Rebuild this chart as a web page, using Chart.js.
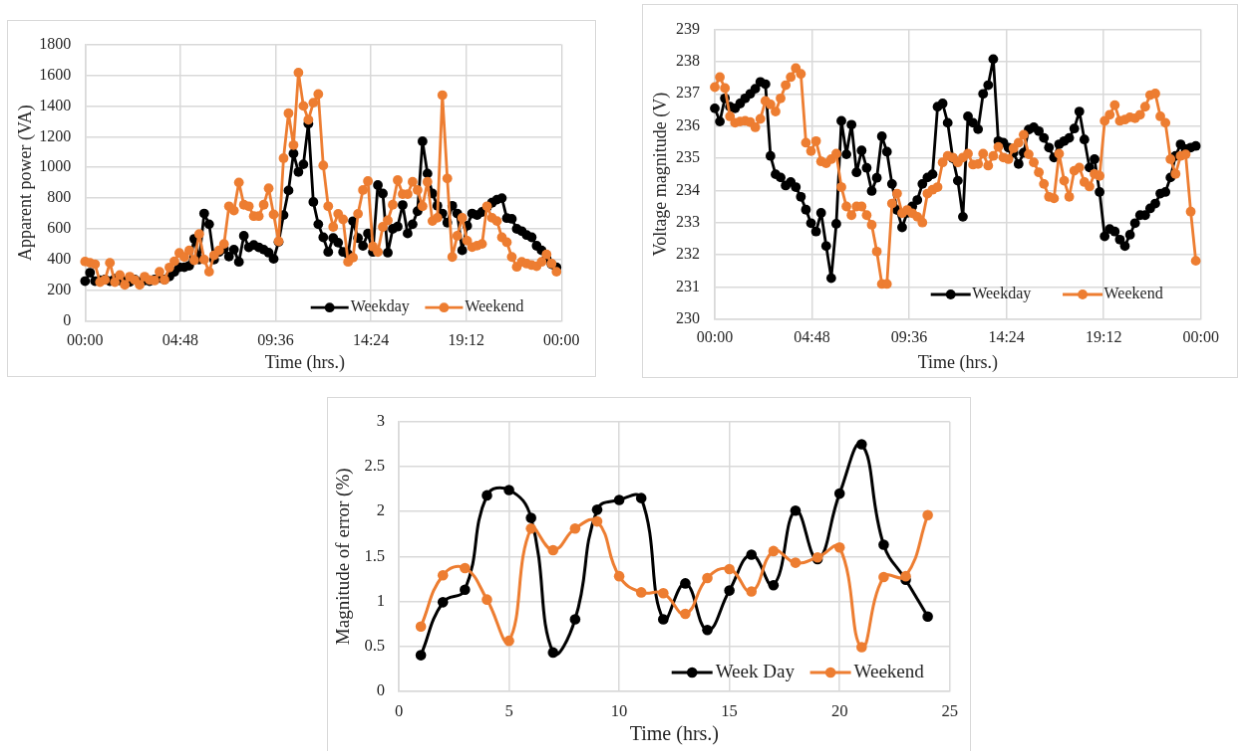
<!DOCTYPE html>
<html>
<head>
<meta charset="utf-8">
<script src="https://cdn.jsdelivr.net/npm/chart.js@4.4.1/dist/chart.umd.min.js"></script>
<style>
  html, body { margin: 0; padding: 0; background: #fff; width: 1241px; height: 751px; overflow: hidden; }
  canvas { position: absolute; border: 1px solid #d9d9d9; }
  #power   { left: 7px;   top: 20px;  }
  #voltage { left: 642px; top: 4px;   }
  #error   { left: 327px; top: 397px; }
</style>
</head>
<body>
<canvas id="power" width="589" height="357"></canvas>
<canvas id="voltage" width="596" height="374"></canvas>
<canvas id="error" width="644" height="360"></canvas>
<script>
// ---- Data -------------------------------------------------------------
// Quarter-hour profiles over one day (96 samples each)
const wkdPower = [260,315,260,265,270,260,275,265,260,255,270,255,265,260,270,280,270,290,320,350,
  350,360,535,400,700,630,400,450,470,420,465,385,555,480,495,480,465,445,405,515,
  690,850,1090,970,1020,1285,775,630,545,450,540,510,450,435,650,540,490,570,450,885,
  830,445,600,615,755,570,630,715,1170,960,830,750,700,640,750,700,460,620,700,690,
  710,740,770,790,800,670,665,600,585,560,545,490,460,410,370,350];
const wkePower = [387,379,370,253,268,379,253,300,236,289,268,236,289,268,264,321,268,349,389,443,
  417,460,396,566,400,321,428,460,502,747,719,902,757,747,683,683,757,864,694,519,
  1060,1353,1145,1617,1400,1310,1421,1477,1013,747,613,698,662,385,413,698,853,911,485,449,
  613,655,757,917,826,826,906,853,747,906,651,672,1470,928,417,555,672,523,481,491,
  502,747,672,651,545,513,417,353,385,374,364,357,385,434,374,321];

const wkdVolt = [236.55,236.14,236.86,236.6,236.55,236.7,236.86,237.0,237.16,237.37,237.3,235.07,234.5,234.4,234.15,234.26,234.1,233.8,233.4,232.98,
  232.72,233.3,232.27,231.27,232.96,236.16,235.12,236.04,234.56,235.24,234.7,233.98,234.39,235.68,235.2,234.2,233.39,232.85,233.3,233.5,
  233.7,234.2,234.4,234.5,236.6,236.7,236.1,235.0,234.3,233.18,236.3,236.1,235.9,237.0,237.27,238.08,235.53,235.48,235.33,235.17,
  234.82,235.17,235.89,235.96,235.84,235.63,235.33,235.02,235.43,235.53,235.63,235.92,236.45,235.58,234.71,234.97,233.95,232.57,232.8,232.72,
  232.47,232.27,232.62,232.98,233.23,233.23,233.44,233.59,233.9,233.95,234.4,235.07,235.43,235.28,235.33,235.38];
const wkeVolt = [237.21,237.52,237.18,236.3,236.1,236.14,236.16,236.12,235.96,236.22,236.78,236.67,236.45,236.86,237.27,237.52,237.8,237.62,235.48,235.22,
  235.53,234.9,234.84,234.97,235.14,234.1,233.5,233.23,233.5,233.5,233.23,232.93,232.1,231.09,231.09,233.59,233.9,233.29,233.39,233.29,
  233.18,233.0,233.9,234.02,234.1,234.87,235.07,235.02,234.87,235.02,235.14,234.8,234.82,235.14,234.77,235.07,235.35,235.02,234.97,235.31,
  235.48,235.73,235.12,234.87,234.56,234.2,233.8,233.75,235.14,234.3,233.8,234.61,234.71,234.26,234.12,234.51,234.45,236.16,236.35,236.65,
  236.16,236.2,236.27,236.24,236.35,236.6,236.96,237.01,236.3,236.1,234.97,234.51,235.07,235.12,233.34,231.81];

// Clock-axis ticks (fractions of a day shown as hh:mm)
const clockTickHours  = [0, 4.8, 9.6, 14.4, 19.2, 24];
const clockTickLabels = ['00:00', '04:48', '09:36', '14:24', '19:12', '00:00'];

// Hourly forecast error
const errHours   = [1,2,3,4,5,6,7,8,9,10,11,12,13,14,15,16,17,18,19,20,21,22,23,24];
const weekDayErr = [0.40,0.99,1.13,2.18,2.24,1.93,0.43,0.80,2.02,2.13,2.15,0.80,1.20,0.68,1.12,1.52,1.18,2.01,1.47,2.20,2.75,1.63,1.24,0.83];
const weekendErr = [0.72,1.29,1.37,1.02,0.56,1.81,1.57,1.81,1.89,1.28,1.10,1.09,0.86,1.26,1.36,1.11,1.56,1.43,1.49,1.60,0.49,1.27,1.28,1.96];

// ---- Styling -----------------------------------------------------------
const BLACK = '#000000';
const ORANGE = '#ED7D31';
const GRID = '#d9d9d9';
const TEXT = '#262626';

Chart.defaults.font.family = '"Liberation Serif", "Times New Roman", serif';
Chart.defaults.color = TEXT;

const slotHours = wkdPower.map((_, i) => i * 0.25);
const plainNumber = v => String(v);

function series(label, xs, ys, color, opts) {
  return Object.assign({
    label,
    data: ys.map((y, i) => ({ x: xs[i], y })),
    borderColor: color,
    backgroundColor: color,
    pointBackgroundColor: color,
    pointBorderColor: color,
    pointBorderWidth: 0,
    borderJoinStyle: 'round',
    borderCapStyle: 'round',
    clip: false
  }, opts);
}

// Legend drawn inside the plot area, below the data
const inlineLegend = {
  id: 'inlineLegend',
  afterDatasetsDraw(chart, args, o) {
    if (!o || !o.size) return;
    const { ctx, chartArea } = chart;
    ctx.save();
    ctx.font = o.size + 'px "Liberation Serif", "Times New Roman", serif';
    ctx.textBaseline = 'middle';
    ctx.textAlign = 'left';
    let x = chartArea.left + o.left;
    const y = chartArea.bottom - o.bottom;
    chart.data.datasets.forEach(ds => {
      ctx.strokeStyle = ds.borderColor;
      ctx.lineWidth = ds.borderWidth;
      ctx.beginPath();
      ctx.moveTo(x, y);
      ctx.lineTo(x + o.line, y);
      ctx.stroke();
      ctx.fillStyle = ds.borderColor;
      ctx.beginPath();
      ctx.arc(x + o.line / 2, y, ds.pointRadius, 0, Math.PI * 2);
      ctx.fill();
      x += o.line + o.gap;
      ctx.fillStyle = o.color;
      ctx.fillText(ds.label, x, y);
      x += ctx.measureText(ds.label).width + o.spacing;
    });
    ctx.restore();
  }
};

// Horizontal-axis caption with a sideways offset
const shiftedCaption = {
  id: 'shiftedCaption',
  afterDraw(chart, args, o) {
    if (!o || !o.text) return;
    const { ctx, chartArea } = chart;
    ctx.save();
    ctx.font = o.size + 'px "Liberation Serif", "Times New Roman", serif';
    ctx.fillStyle = TEXT;
    ctx.textAlign = 'center';
    ctx.textBaseline = 'middle';
    ctx.fillText(o.text, (chartArea.left + chartArea.right) / 2 + o.dx, chartArea.bottom + o.dy);
    ctx.restore();
  }
};

function gridOpts() {
  return { color: GRID, lineWidth: 1.5, drawTicks: false };
}
function borderOpts() {
  return { color: GRID, width: 1.5 };
}

function clockAxis(padding, height, title) {
  return {
    type: 'linear', min: 0, max: 24,
    afterBuildTicks: s => { s.ticks = clockTickHours.map(v => ({ value: v })); },
    ticks: { callback: (v, i) => clockTickLabels[i], padding, maxRotation: 0, autoSkip: false, font: { size: 16 } },
    grid: gridOpts(), border: borderOpts(),
    title: title ? { display: true, text: title, font: { size: 18 }, padding: 0, color: TEXT } : { display: false },
    afterFit: s => { s.height = height; }
  };
}

function baseOptions() {
  return {
    responsive: false,
    animation: false,
    devicePixelRatio: 1,
    events: []
  };
}

// ---- Apparent power ----------------------------------------------------
new Chart(document.getElementById('power'), {
  type: 'line',
  data: {
    datasets: [
      series('Weekday', slotHours, wkdPower, BLACK, { borderWidth: 2.8, pointRadius: 4.9, order: 1 }),
      series('Weekend', slotHours, wkePower, ORANGE, { borderWidth: 2.8, pointRadius: 4.9, order: 0 })
    ]
  },
  options: Object.assign(baseOptions(), {
    layout: { padding: { left: 7, top: 19.3, right: 33.7, bottom: 0 } },
    scales: {
      x: clockAxis(10, 55.3, null),
      y: {
        min: 0, max: 1800,
        ticks: { stepSize: 200, padding: 14, font: { size: 16 }, callback: plainNumber },
        grid: gridOpts(), border: borderOpts(),
        title: { display: true, text: 'Apparent power (VA)', font: { size: 18 }, padding: 0, color: TEXT },
        afterFit: s => { s.width = 70.3; }
      }
    },
    plugins: {
      legend: { display: false }, tooltip: { enabled: false },
      inlineLegend: { size: 16, left: 226.4, bottom: 13.5, line: 38, gap: 2, spacing: 15.6, color: '#1f1f1f' },
      shiftedCaption: { text: 'Time (hrs.)', size: 18, dx: -18.5, dy: 42.3 }
    }
  }),
  plugins: [inlineLegend, shiftedCaption]
});

// ---- Voltage magnitude -------------------------------------------------
new Chart(document.getElementById('voltage'), {
  type: 'line',
  data: {
    datasets: [
      series('Weekday', slotHours, wkdVolt, BLACK, { borderWidth: 2.8, pointRadius: 4.9, order: 1 }),
      series('Weekend', slotHours, wkeVolt, ORANGE, { borderWidth: 2.8, pointRadius: 4.9, order: 0 })
    ]
  },
  options: Object.assign(baseOptions(), {
    layout: { padding: { left: 7.7, top: 21.7, right: 36.3, bottom: 3.2 } },
    scales: {
      x: clockAxis(9.7, 55.1, 'Time (hrs.)'),
      y: {
        min: 230, max: 239,
        ticks: { stepSize: 1, padding: 15, font: { size: 16 }, callback: plainNumber },
        grid: gridOpts(), border: borderOpts(),
        title: { display: true, text: 'Voltage magnitude (V)', font: { size: 18 }, padding: 0, color: TEXT },
        afterFit: s => { s.width = 64.3; }
      }
    },
    plugins: {
      legend: { display: false }, tooltip: { enabled: false },
      inlineLegend: { size: 16, left: 216.7, bottom: 24.7, line: 40, gap: 1.5, spacing: 31.7, color: '#1f1f1f' }
    }
  }),
  plugins: [inlineLegend]
});

// ---- Magnitude of error ------------------------------------------------
new Chart(document.getElementById('error'), {
  type: 'line',
  data: {
    datasets: [
      series('Week Day', errHours, weekDayErr, BLACK, { borderWidth: 3, pointRadius: 5.3, tension: 0.45, order: 1 }),
      series('Weekend', errHours, weekendErr, ORANGE, { borderWidth: 3, pointRadius: 5.3, tension: 0.45, order: 0 })
    ]
  },
  options: Object.assign(baseOptions(), {
    layout: { padding: { left: 5.1, top: 21.3, right: 20.3, bottom: 9.3 } },
    scales: {
      x: {
        type: 'linear', min: 0, max: 25,
        ticks: { stepSize: 5, padding: 11.4, maxRotation: 0, font: { size: 16.5 }, callback: plainNumber },
        grid: gridOpts(), border: borderOpts(),
        title: { display: true, text: 'Time (hrs.)', font: { size: 20 }, padding: 0, color: TEXT },
        afterFit: s => { s.height = 56; }
      },
      y: {
        min: 0, max: 3,
        ticks: { stepSize: 0.5, padding: 14, font: { size: 16.5 }, callback: plainNumber },
        grid: gridOpts(), border: borderOpts(),
        title: { display: true, text: 'Magnitude of error (%)', font: { size: 19 }, padding: 0, color: TEXT },
        afterFit: s => { s.width = 65.9; }
      }
    },
    plugins: {
      legend: { display: false }, tooltip: { enabled: false },
      inlineLegend: { size: 19, left: 273.7, bottom: 18.7, line: 41, gap: 3, spacing: 15.7, color: '#1f1f1f' }
    }
  }),
  plugins: [inlineLegend]
});
</script>
</body>
</html>
